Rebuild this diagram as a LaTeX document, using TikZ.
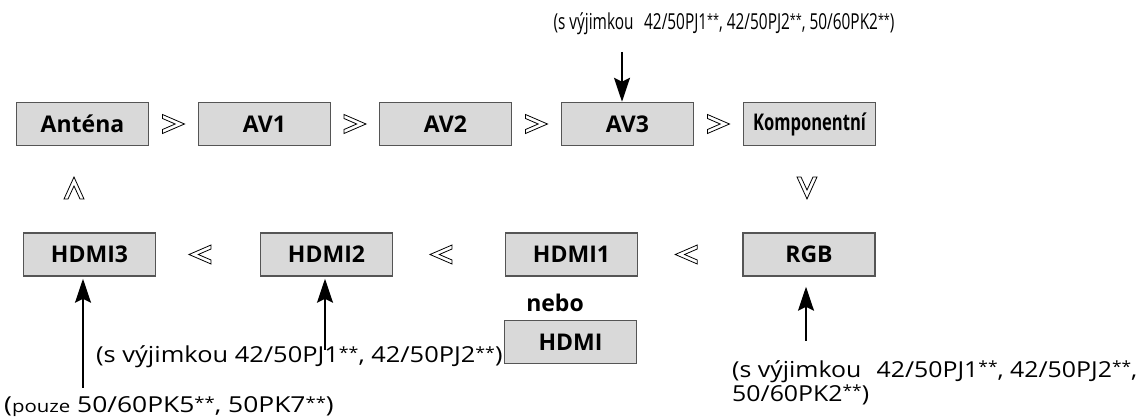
\documentclass[tikz,border=0pt]{standalone}
\usepackage{fontspec}
\usepackage{graphicx}
\setmainfont{Open Sans}
\newfontfamily\noteTop[FakeStretch=0.70]{Open Sans}
\newfontfamily\noteHtwo[FakeStretch=1.155]{Open Sans}
\newfontfamily\notePouze[FakeStretch=1.2]{Open Sans}
\newfontfamily\noteRGB[FakeStretch=1.13]{Open Sans}
\newfontfamily\kompfont[FakeStretch=0.72]{Open Sans}
\newcommand\stars{\raisebox{0.2em}{\scalebox{0.7}{**}}}
\usetikzlibrary{arrows.meta,calc}
\definecolor{boxfill}{RGB}{217,217,217}
\definecolor{boxborder}{RGB}{85,85,85}
\tikzset{
  inbox/.style={draw=boxborder, line width=1.5pt, fill=boxfill, minimum width=132pt,
    minimum height=43pt, inner sep=0pt, font=\fontsize{23}{26}\selectfont\bfseries},
  arr/.style={line width=2pt, -{Stealth[length=24pt,width=16pt,inset=4pt]}},
  chevline/.style={draw=black, line width=0.8pt, fill=white, line join=miter},
  chevR/.pic={\path[chevline] (-11,-9.5) -- (11,0) -- (-11,9.5) -- (-11,5.5) -- (1.7,0) -- (-11,-5.5) -- cycle;},
  chevL/.pic={\path[chevline] (11,-9.5) -- (-11,0) -- (11,9.5) -- (11,5.5) -- (-1.7,0) -- (11,-5.5) -- cycle;},
  chevU/.pic={\path[chevline] (-10,11) -- (0,-11) -- (10,11) -- (6,11) -- (0,-2) -- (-6,11) -- cycle;},
  chevD/.pic={\path[chevline] (-10,-11) -- (0,11) -- (10,-11) -- (6,-11) -- (0,2) -- (-6,-11) -- cycle;},
}
\begin{document}
\begin{tikzpicture}[x=1pt,y=-1pt]
\useasboundingbox[fill=white] (0,0) rectangle (1144,419);
% top row
\node[inbox] (ant)  at (82.5,124) {Anténa};
\node[inbox] (av1)  at (264.5,124) {AV1};
\node[inbox] (av2)  at (445.5,124) {AV2};
\node[inbox] (av3)  at (627.5,124) {AV3};
\node[inbox] (komp) at (809.5,124) {{\kompfont\bfseries Komponentní}};
% bottom row
\node[inbox] (h3)  at (89.5,254.5) {HDMI3};
\node[inbox] (h2)  at (326.5,254.5) {HDMI2};
\node[inbox] (h1)  at (571.5,254.5) {HDMI1};
\node[inbox] (rgb) at (809,254.5) {RGB};
\node[inbox] (hdmi) at (570.5,342) {HDMI};
\node[anchor=base, font=\fontsize{23}{26}\selectfont\bfseries] (nebo) at (555,312) {nebo};
% chevrons
\pic at ($(ant.east)!0.5!(av1.west)$) {chevR};
\pic at ($(av1.east)!0.5!(av2.west)$) {chevR};
\pic at ($(av2.east)!0.5!(av3.west)$) {chevR};
\pic at ($(av3.east)!0.5!(komp.west)$) {chevR};
\pic at (807,188) {chevD};
\pic at (74,188) {chevU};
\pic at ($(h3.east)!0.5!(h2.west)+(-8,0)$) {chevL};
\pic at ($(h2.east)!0.5!(h1.west)+(-8,0)$) {chevL};
\pic at ($(h1.east)!0.5!(rgb.west)+(-4,0)$) {chevL};
% notes
\node[anchor=base, inner sep=0pt, font=\noteTop\fontsize{22}{26}\selectfont] (ntop) at (724,30)
  {(s výjimkou\hspace{0.3em} 42/50PJ1\stars, 42/50PJ2\stars, 50/60PK2\stars)};
\node[anchor=base west, inner sep=0pt, font=\notePouze\fontsize{22}{26}\selectfont] (nh3) at (4,413)
  {({\fontsize{17}{20}\selectfont pouze} 50/60PK5\stars, 50PK7\stars)};
\node[anchor=base west, inner sep=0pt, font=\noteHtwo\fontsize{22}{26}\selectfont] (nh2) at (96,363)
  {(s výjimkou 42/50PJ1\stars, 42/50PJ2\stars)};
\node[anchor=north west, inner sep=0pt, align=left, font=\noteRGB\fontsize{22}{24}\selectfont] (nrgb) at (732,360)
  {(s výjimkou\hspace{0.4em} 42/50PJ1\stars, 42/50PJ2\stars,\\50/60PK2\stars)};
% arrows
\coordinate (t3) at (622,52);
\draw[arr] (t3) -- (t3 |- av3.north);
\coordinate (b3) at (83,388);
\draw[arr, shorten >=2pt] (b3) -- (b3 |- h3.south);
\coordinate (b2) at (325,350);
\draw[arr, shorten >=2pt] (b2) -- (b2 |- h2.south);
\coordinate (br) at (806,341);
\draw[arr, shorten >=10pt] (br) -- (br |- rgb.south);
\end{tikzpicture}
\end{document}
